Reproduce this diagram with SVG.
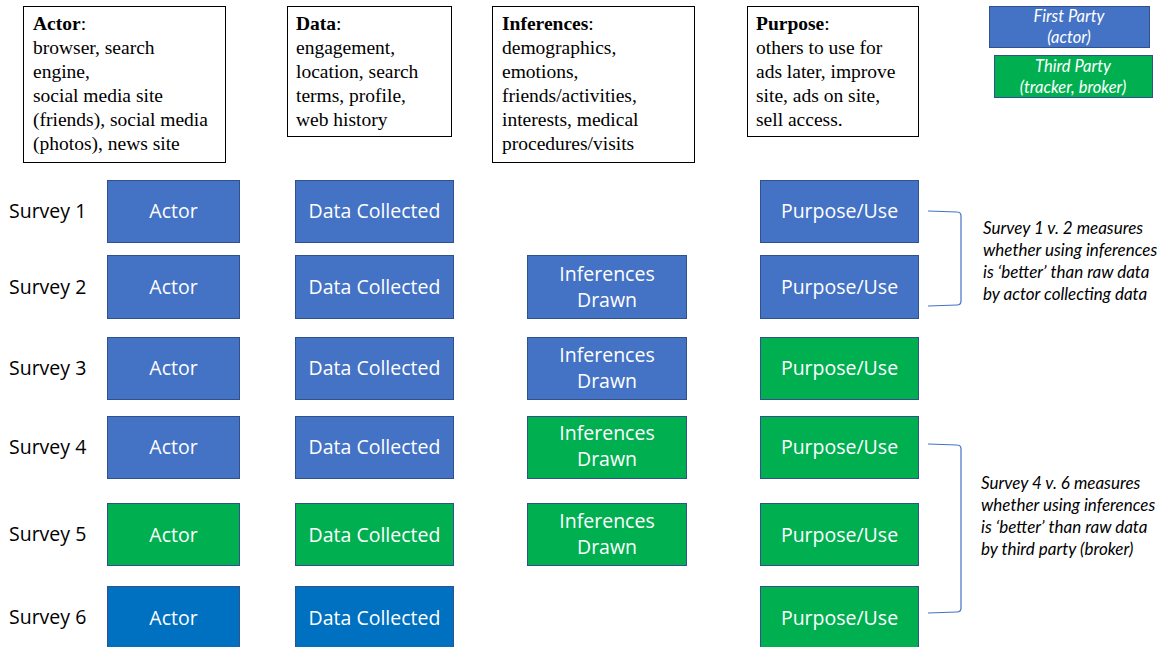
<svg xmlns="http://www.w3.org/2000/svg" width="1171" height="647" viewBox="0 0 1171 647">
<style>
.desc{fill:#fff;stroke:#000;stroke-width:1}
.dt{font-family:"Liberation Serif","Times New Roman",serif;font-size:19.5px;fill:#000}
.b{fill:#4472C4;stroke:#2F528F;stroke-width:1}
.g{fill:#00B050;stroke:#2F528F;stroke-width:1}
.d{fill:#0070C0;stroke:#2F528F;stroke-width:1}
.bt{font-family:"Open Sans","Noto Sans",sans-serif;font-size:19.5px;fill:#fff;text-anchor:middle}
.sl{font-family:"Open Sans","Noto Sans",sans-serif;font-size:19.5px;fill:#000}
.lt{font-family:Lato,"Open Sans",sans-serif;font-style:italic;font-size:16.5px;fill:#fff;text-anchor:middle}
.an{font-family:Lato,"Open Sans",sans-serif;font-style:italic;font-size:17px;fill:#000}
.br{fill:none;stroke:#4472C4;stroke-width:1.2}
</style>
<g id="desc-actor">
<rect class="desc" x="23.5" y="6.5" width="202" height="156"/>
<text class="dt" x="33"><tspan x="33" y="30" font-weight="bold">Actor</tspan><tspan>:</tspan><tspan x="33" y="54">browser, search</tspan><tspan x="33" y="78">engine,</tspan><tspan x="33" y="102">social media site</tspan><tspan x="33" y="126">(friends), social media</tspan><tspan x="33" y="150">(photos), news site</tspan></text>
</g>
<g id="desc-data">
<rect class="desc" x="287.5" y="6.5" width="164" height="130"/>
<text class="dt"><tspan x="296" y="30" font-weight="bold">Data</tspan><tspan>:</tspan><tspan x="296" y="54">engagement,</tspan><tspan x="296" y="78">location, search</tspan><tspan x="296" y="102">terms, profile,</tspan><tspan x="296" y="126">web history</tspan></text>
</g>
<g id="desc-inferences">
<rect class="desc" x="492.5" y="6.5" width="202" height="156"/>
<text class="dt"><tspan x="502" y="30" font-weight="bold">Inferences</tspan><tspan>:</tspan><tspan x="502" y="54">demographics,</tspan><tspan x="502" y="78">emotions,</tspan><tspan x="502" y="102">friends/activities,</tspan><tspan x="502" y="126">interests, medical</tspan><tspan x="502" y="150">procedures/visits</tspan></text>
</g>
<g id="desc-purpose">
<rect class="desc" x="747.5" y="6.5" width="171" height="130"/>
<text class="dt"><tspan x="756" y="30" font-weight="bold">Purpose</tspan><tspan>:</tspan><tspan x="756" y="54">others to use for</tspan><tspan x="756" y="78">ads later, improve</tspan><tspan x="756" y="102">site, ads on site,</tspan><tspan x="756" y="126">sell access.</tspan></text>
</g>
<g id="legend-first">
<rect class="b" x="989.5" y="6.5" width="160" height="41"/>
<text class="lt" x="1069" y="22">First Party</text>
<text class="lt" x="1069" y="43">(actor)</text>
</g>
<g id="legend-third">
<rect class="g" x="994.5" y="55.5" width="158" height="42"/>
<text class="lt" x="1073" y="72">Third Party</text>
<text class="lt" x="1073" y="93">(tracker, broker)</text>
</g>
<g id="survey1">
<text class="sl" x="9" y="218">Survey 1</text>
<rect class="b" x="107.5" y="180.5" width="132" height="62"/><text class="bt" x="173.5" y="218">Actor</text>
<rect class="b" x="295.5" y="180.5" width="158" height="62"/><text class="bt" x="374.5" y="218">Data Collected</text>
<rect class="b" x="760.5" y="180.5" width="158" height="62"/><text class="bt" x="839.5" y="218">Purpose/Use</text>
</g>
<g id="survey2">
<text class="sl" x="9" y="294">Survey 2</text>
<rect class="b" x="107.5" y="255.5" width="132" height="63"/><text class="bt" x="173.5" y="294">Actor</text>
<rect class="b" x="295.5" y="255.5" width="158" height="63"/><text class="bt" x="374.5" y="294">Data Collected</text>
<rect class="b" x="527.5" y="255.5" width="159" height="63"/><text class="bt" x="607" y="281">Inferences</text><text class="bt" x="607" y="307">Drawn</text>
<rect class="b" x="760.5" y="255.5" width="158" height="63"/><text class="bt" x="839.5" y="294">Purpose/Use</text>
</g>
<g id="survey3">
<text class="sl" x="9" y="375">Survey 3</text>
<rect class="b" x="107.5" y="337.5" width="132" height="62"/><text class="bt" x="173.5" y="375">Actor</text>
<rect class="b" x="295.5" y="337.5" width="158" height="62"/><text class="bt" x="374.5" y="375">Data Collected</text>
<rect class="b" x="527.5" y="337.5" width="159" height="62"/><text class="bt" x="607" y="362">Inferences</text><text class="bt" x="607" y="388">Drawn</text>
<rect class="g" x="760.5" y="337.5" width="158" height="62"/><text class="bt" x="839.5" y="375">Purpose/Use</text>
</g>
<g id="survey4">
<text class="sl" x="9" y="454">Survey 4</text>
<rect class="b" x="107.5" y="416.5" width="132" height="62"/><text class="bt" x="173.5" y="454">Actor</text>
<rect class="b" x="295.5" y="416.5" width="158" height="62"/><text class="bt" x="374.5" y="454">Data Collected</text>
<rect class="g" x="527.5" y="416.5" width="159" height="62"/><text class="bt" x="607" y="440">Inferences</text><text class="bt" x="607" y="466">Drawn</text>
<rect class="g" x="760.5" y="416.5" width="158" height="62"/><text class="bt" x="839.5" y="454">Purpose/Use</text>
</g>
<g id="survey5">
<text class="sl" x="9" y="541">Survey 5</text>
<rect class="g" x="107.5" y="503.5" width="132" height="62"/><text class="bt" x="173.5" y="542">Actor</text>
<rect class="g" x="295.5" y="503.5" width="158" height="62"/><text class="bt" x="374.5" y="542">Data Collected</text>
<rect class="g" x="527.5" y="503.5" width="159" height="62"/><text class="bt" x="607" y="528">Inferences</text><text class="bt" x="607" y="554">Drawn</text>
<rect class="g" x="760.5" y="503.5" width="158" height="62"/><text class="bt" x="839.5" y="542">Purpose/Use</text>
</g>
<g id="survey6">
<text class="sl" x="9" y="624">Survey 6</text>
<rect class="d" x="107.5" y="586.5" width="132" height="62"/><text class="bt" x="173.5" y="625">Actor</text>
<rect class="d" x="295.5" y="586.5" width="158" height="62"/><text class="bt" x="374.5" y="625">Data Collected</text>
<rect class="g" x="760.5" y="586.5" width="158" height="62"/><text class="bt" x="839.5" y="625">Purpose/Use</text>
</g>
<g id="connectors">
<path class="br" d="M928,211 L957,212 Q961,212 961,216 L961,301 Q961,305 957,305 L928,306"/>
<path class="br" d="M928,444 L957,445 Q961,445 961,449 L961,608 Q961,612 957,612 L928,613"/>
</g>
<g id="annotations">
<text class="an"><tspan x="983" y="234">Survey 1 v. 2 measures</tspan><tspan x="983" y="256">whether using inferences</tspan><tspan x="983" y="278">is ‘better’ than raw data</tspan><tspan x="983" y="300">by actor collecting data</tspan></text>
<text class="an"><tspan x="981" y="489">Survey 4 v. 6 measures</tspan><tspan x="981" y="511">whether using inferences</tspan><tspan x="981" y="533">is ‘better’ than raw data</tspan><tspan x="981" y="555">by third party (broker)</tspan></text>
</g>
</svg>
